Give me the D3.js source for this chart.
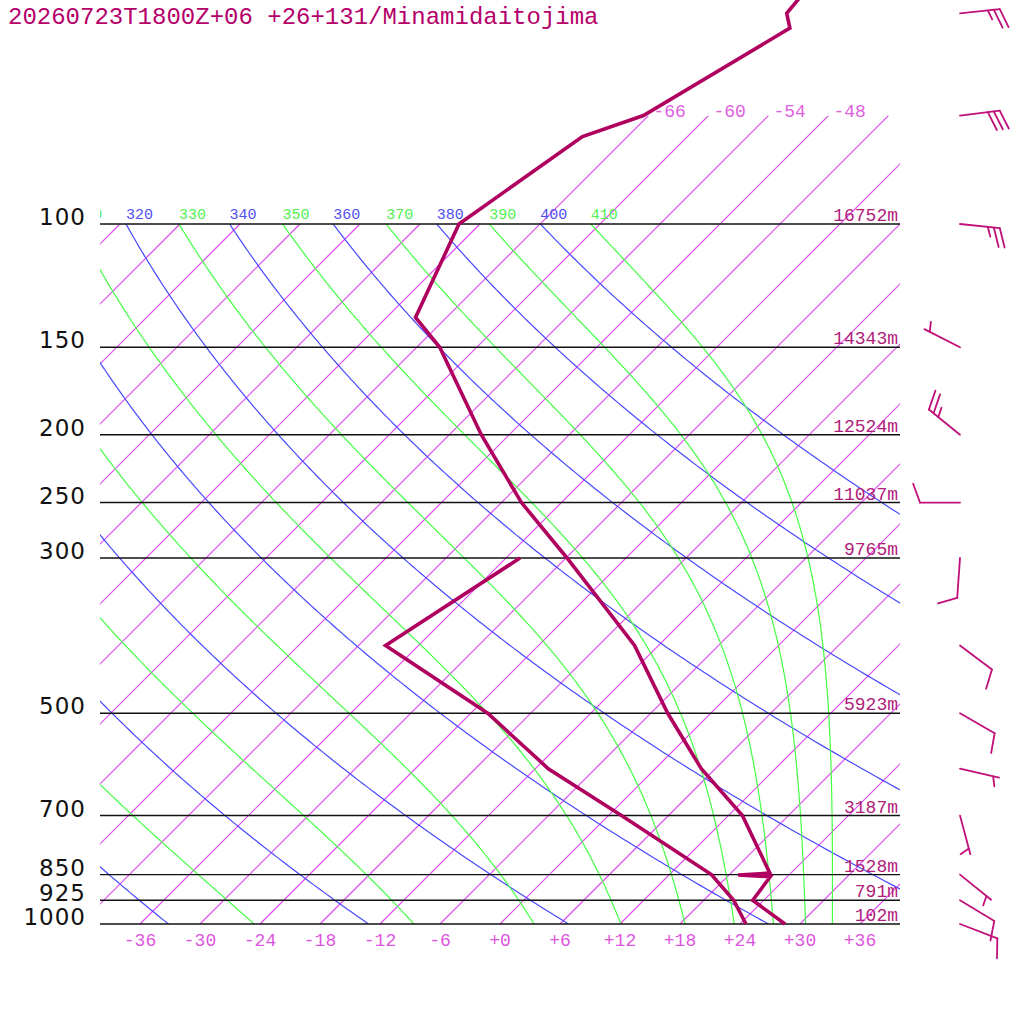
<!DOCTYPE html>
<html>
<head>
<meta charset="utf-8">
<script src="https://cdn.jsdelivr.net/npm/d3@7"></script>
<style>
body { margin: 0; background: #fff; }
svg { display: block; }
path.iso { fill: none; stroke: #e048f0; stroke-width: 1.2px; }
path.adi { fill: none; stroke-width: 1.2px; }
</style>
</head>
<body>
<div id="chart"></div>
<script>
// 図のデータ
const titleText = "20260723T1800Z+06 +26+131/Minamidaitojima";

const pressureLevels = [100, 150, 200, 250, 300, 500, 700, 850, 925, 1000];
const heightsM = [16752, 14343, 12524, 11037, 9765, 5923, 3187, 1528, 791, 102];

const bottomTempTicks = [-36, -30, -24, -18, -12, -6, 0, 6, 12, 18, 24, 30, 36];
const dryThetas = [240, 260, 280, 300, 320, 340, 360, 380, 400];
const moistThetaEs = [250, 270, 290, 310, 330, 350, 370, 390, 410];

// 気温プロファイル（hPa, ℃）
const tempP = [30, 50, 52.5, 70, 75, 100, 136, 150, 200, 250, 300, 400, 500, 600, 700, 846, 851, 856, 925, 1000];
const tempC = [-65.0, -62.4, -60.6, -66.5, -70.5, -74.1, -69.1, -63.7, -50.8, -40.0, -29.9, -14.4, -4.3, 4.6, 13.4, 21.9, 18.9, 22.3, 22.9, 28.5];

// 露点プロファイル
const dewP = [300, 400, 500, 600, 700, 850, 925, 1000];
const dewC = [-34.6, -39.3, -22.3, -10.7, 1.3, 16.2, 21.0, 24.6];

// 風（hPa, 風向度, ノット）
const windP = [50, 70, 100, 150, 200, 250, 300, 400, 500, 600, 700, 850, 925, 1000];
const windDir = [84, 83, 96, 297, 309, 270, 184, 127, 120, 103, 165, 129, 121, 111];
const windSpd = [25, 30, 25, 5, 25, 10, 10, 10, 10, 5, 5, 5, 10, 10];

const width = 1024, height = 1024;
const mono = "'Liberation Mono', 'DejaVu Sans Mono', monospace";

const svg = d3.select("#chart").append("svg")
	.attr("width", width).attr("height", height);

const y = d3.scaleLog().domain([1000, 100]).range([924, 224]);
const xT = d3.scaleLinear().domain([-40, 40]).range([100, 900]);
const skewX = (t, p) => xT(t) + (y(1000) - y(p));

const defs = svg.append("defs");
defs.append("clipPath").attr("id", "plotClip").append("rect")
	.attr("x", 100).attr("y", y(100)).attr("width", 800).attr("height", y(1000) - y(100));
defs.append("clipPath").attr("id", "isoClip").append("rect")
	.attr("x", 100).attr("y", y(70)).attr("width", 800).attr("height", y(1000) - y(70));
defs.append("clipPath").attr("id", "labelClip").append("rect")
	.attr("x", 100).attr("y", 190).attr("width", 800).attr("height", 40);

const lineGen = d3.line().x(d => skewX(d.t, d.p)).y(d => y(d.p));

// 等温線
const isoTemps = d3.range(-108, 37, 6);
svg.append("g").attr("clip-path", "url(#isoClip)")
	.selectAll("path").data(isoTemps).enter().append("path")
	.attr("class", "iso")
	.attr("d", t => lineGen([{t: t, p: 1000}, {t: t, p: t >= -66 ? 70 : 100}]));

for (let t of isoTemps) {
	if (t < -66) continue;
	let xx = skewX(t, 70);
	if (xx > 860) continue;
	svg.append("text").attr("x", xx + 5).attr("y", y(70) + 1)
		.attr("font-family", mono).attr("font-size", 18).attr("fill", "#e060e0")
		.text(String(t));
}

// 乾燥断熱線・湿潤断熱線
const samples = d3.range(0, 181).map(i => 1000 * Math.pow(0.1, i / 180));

const thetaE = (tk, p) => {
	let tc = tk - 273.15;
	let es = 6.112 * Math.exp(17.67 * tc / (tc + 243.5));
	if (es > 0.6 * p) return 1e4;
	let ws = 0.622 * es / (p - es);
	let k = 0.2854 * (1 - 0.28 * ws);
	return tk * Math.pow(1000 / p, k) * Math.exp((3.376 / tk - 0.00254) * 1000 * ws * (1 + 0.81 * ws));
};
const moistT = (te, p) => {
	let lo = 120, hi = 330;
	for (let i = 0; i < 60; i++) {
		let mid = (lo + hi) / 2;
		if (thetaE(mid, p) > te) hi = mid; else lo = mid;
	}
	return (lo + hi) / 2 - 273.15;
};

const adiG = svg.append("g").attr("clip-path", "url(#plotClip)");
const labelG = svg.append("g").attr("clip-path", "url(#labelClip)");
const adiLines = [];
for (let th of dryThetas) {
	adiLines.push({v: th, color: "#4848ff", label: "#5050f0",
		pts: samples.map(p => ({p: p, t: th * Math.pow(p / 1000, 0.2857) - 273.15}))});
}
for (let te of moistThetaEs) {
	adiLines.push({v: te, color: "#44ff44", label: "#50f050",
		pts: samples.map(p => ({p: p, t: moistT(te, p)}))});
}
for (let a of adiLines) {
	adiG.append("path").attr("class", "adi").attr("d", lineGen(a.pts))
		.style("stroke", a.color);
	let top = a.pts[a.pts.length - 1];
	let lx = skewX(top.t, top.p);
	let s = String(a.v);
	// 左端で一部だけ見えるラベルは見える文字だけ置く
	while (s.length > 0 && lx + 9 < 100) {
		s = s.slice(1);
		lx += 9;
	}
	if (s.length === 0) continue;
	labelG.append("text").attr("x", lx).attr("y", y(100) - 5)
		.attr("font-family", mono).attr("font-size", 15).attr("fill", a.label)
		.text(s);
}

// 等圧線と目盛
for (let i = 0; i < pressureLevels.length; i++) {
	let p = pressureLevels[i];
	let yy = y(p);
	svg.append("line").attr("x1", 100).attr("x2", 900).attr("y1", yy).attr("y2", yy)
		.attr("stroke", "#111").attr("stroke-width", 1.4);
	svg.append("text").attr("x", 86).attr("y", yy + 1).attr("text-anchor", "end")
		.attr("font-family", "'DejaVu Sans', sans-serif").attr("font-size", 23)
		.attr("letter-spacing", 1).attr("fill", "#111").text(p);
	svg.append("text").attr("x", 898).attr("y", yy - 3).attr("text-anchor", "end")
		.attr("font-family", mono).attr("font-size", 18).attr("fill", "#b0207a")
		.text(heightsM[i] + "m");
}

for (let t of bottomTempTicks) {
	svg.append("text").attr("x", xT(t)).attr("y", 946).attr("text-anchor", "middle")
		.attr("font-family", mono).attr("font-size", 18).attr("fill", "#dd55dd")
		.text((t >= 0 ? "+" : "") + t);
}

// 気温・露点
const tempData = tempP.map((p, i) => ({p: p, t: tempC[i]}));
const dewData = dewP.map((p, i) => ({p: p, t: dewC[i]}));
for (let data of [dewData, tempData]) {
	svg.append("path").attr("d", lineGen(data))
		.style("fill", "none").style("stroke", "#b0005f").style("stroke-width", "3.6px")
		.attr("stroke-linejoin", "miter").attr("stroke-miterlimit", 10);
}

// 矢羽
const drawBarb = (x0, y0, dir, spd) => {
	const L = 40, step = 6;
	let rad = dir * Math.PI / 180;
	let ux = Math.sin(rad), uy = -Math.cos(rad);
	let tx = x0 + L * ux, ty = y0 + L * uy;
	let b = Math.atan2(uy, ux) + 70 * Math.PI / 180;
	let g = svg.append("g").attr("stroke", "#c0107a").attr("stroke-width", 1.8)
		.attr("stroke-linecap", "round").attr("fill", "none");
	g.append("line").attr("x1", x0).attr("y1", y0).attr("x2", tx).attr("y2", ty);
	let full = Math.floor(spd / 10);
	let half = spd % 10 >= 5;
	let pos = 0;
	for (let i = 0; i < full; i++) {
		let sx = tx - pos * ux, sy = ty - pos * uy;
		g.append("line").attr("x1", sx).attr("y1", sy)
			.attr("x2", sx + 20 * Math.cos(b)).attr("y2", sy + 20 * Math.sin(b));
		pos += step;
	}
	if (half) {
		if (pos === 0) pos = step;
		let sx = tx - pos * ux, sy = ty - pos * uy;
		g.append("line").attr("x1", sx).attr("y1", sy)
			.attr("x2", sx + 10 * Math.cos(b)).attr("y2", sy + 10 * Math.sin(b));
	}
};
for (let i = 0; i < windP.length; i++) {
	drawBarb(960, y(windP[i]), windDir[i], windSpd[i]);
}

svg.append("text").attr("x", 8).attr("y", 24)
	.attr("font-family", mono).attr("font-size", 24).attr("fill", "#b5006b")
	.text(titleText);
</script>
</body>
</html>
